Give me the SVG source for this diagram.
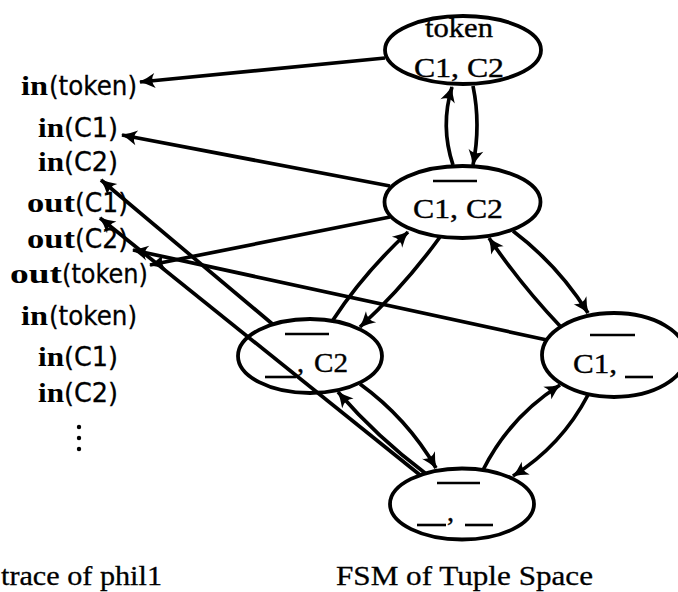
<svg xmlns="http://www.w3.org/2000/svg" width="678" height="592" viewBox="0 0 678 592">
<style>
.bg{fill:#fff}
.node ellipse{fill:none;stroke:#000;stroke-width:3.8}
.bar{stroke:#000;stroke-width:2.6}
.lbl{font-family:"Liberation Serif","Times New Roman",serif;font-size:28px;fill:#000;stroke:#000;stroke-width:0.4}
.kw{font-family:"Liberation Serif","Times New Roman",serif;font-weight:bold;font-size:28px;fill:#000}
.arg{font-family:"DejaVu Sans",sans-serif;font-size:27px;fill:#000;stroke:#000;stroke-width:0.3}
.cap{font-family:"Liberation Serif","Times New Roman",serif;font-size:28px;fill:#000;stroke:#000;stroke-width:0.3}
#connectors path{fill:none;stroke:#000;stroke-width:3.7;marker-end:url(#ah)}
</style>
<defs>
<marker id="ah" markerUnits="userSpaceOnUse" viewBox="-17 -9 19 18" refX="0" refY="0" markerWidth="19" markerHeight="18" orient="auto">
<path d="M1,0 Q-7,-2.5 -15,-7.5 Q-9.5,0 -15,7.5 Q-7,2.5 1,0 Z" fill="#000"/>
</marker>
</defs>
<rect class="bg" x="0" y="0" width="678" height="592"/>

<g id="trace">
<g id="t1"><text y="95"><tspan class="kw" x="21" textLength="27" lengthAdjust="spacingAndGlyphs">in</tspan><tspan class="arg" x="49" textLength="88" lengthAdjust="spacingAndGlyphs">(token)</tspan></text></g>
<g id="t2"><text y="137"><tspan class="kw" x="38" textLength="26" lengthAdjust="spacingAndGlyphs">in</tspan><tspan class="arg" x="64" textLength="54" lengthAdjust="spacingAndGlyphs">(C1)</tspan></text></g>
<g id="t3"><text y="171"><tspan class="kw" x="38" textLength="26" lengthAdjust="spacingAndGlyphs">in</tspan><tspan class="arg" x="64" textLength="54" lengthAdjust="spacingAndGlyphs">(C2)</tspan></text></g>
<g id="t4"><text y="212"><tspan class="kw" x="27" textLength="48" lengthAdjust="spacingAndGlyphs">out</tspan><tspan class="arg" x="75" textLength="53" lengthAdjust="spacingAndGlyphs">(C1)</tspan></text></g>
<g id="t5"><text y="248"><tspan class="kw" x="27" textLength="48" lengthAdjust="spacingAndGlyphs">out</tspan><tspan class="arg" x="75" textLength="53" lengthAdjust="spacingAndGlyphs">(C2)</tspan></text></g>
<g id="t6"><text y="283"><tspan class="kw" x="10" textLength="52" lengthAdjust="spacingAndGlyphs">out</tspan><tspan class="arg" x="62" textLength="86" lengthAdjust="spacingAndGlyphs">(token)</tspan></text></g>
<g id="t7"><text y="325"><tspan class="kw" x="21" textLength="27" lengthAdjust="spacingAndGlyphs">in</tspan><tspan class="arg" x="49" textLength="88" lengthAdjust="spacingAndGlyphs">(token)</tspan></text></g>
<g id="t8"><text y="366"><tspan class="kw" x="38" textLength="26" lengthAdjust="spacingAndGlyphs">in</tspan><tspan class="arg" x="64" textLength="54" lengthAdjust="spacingAndGlyphs">(C1)</tspan></text></g>
<g id="t9"><text y="402"><tspan class="kw" x="38" textLength="26" lengthAdjust="spacingAndGlyphs">in</tspan><tspan class="arg" x="64" textLength="54" lengthAdjust="spacingAndGlyphs">(C2)</tspan></text></g>
<g id="dots"><circle cx="79" cy="427" r="2.2"/><circle cx="79" cy="438" r="2.2"/><circle cx="79" cy="449" r="2.2"/></g>
</g>

<g id="n-top" class="node">
<ellipse cx="463" cy="50" rx="78" ry="34"/>
<text class="lbl" x="425" y="37" textLength="68" lengthAdjust="spacingAndGlyphs">token</text>
<text class="lbl" x="414" y="77" textLength="90" lengthAdjust="spacingAndGlyphs">C1, C2</text>
</g>
<g id="n-mid" class="node">
<ellipse cx="462.5" cy="202" rx="78" ry="36"/>
<line class="bar" x1="433" y1="181" x2="477" y2="181"/>
<text class="lbl" x="413" y="218" textLength="90" lengthAdjust="spacingAndGlyphs">C1, C2</text>
</g>
<g id="n-left" class="node">
<ellipse cx="310" cy="356" rx="72" ry="37"/>
<line class="bar" x1="285" y1="334" x2="329" y2="334"/>
<line class="bar" x1="265" y1="377" x2="296" y2="377"/>
<text class="lbl" x="297" y="372">,</text>
<text class="lbl" x="314" y="372" textLength="34" lengthAdjust="spacingAndGlyphs">C2</text>
</g>
<g id="n-right" class="node">
<ellipse cx="614" cy="355" rx="72" ry="42"/>
<line class="bar" x1="590" y1="335" x2="635" y2="335"/>
<text class="lbl" x="573" y="373" textLength="44" lengthAdjust="spacingAndGlyphs">C1,</text>
<line class="bar" x1="625" y1="377" x2="653" y2="377"/>
</g>
<g id="n-bottom" class="node">
<ellipse cx="462" cy="504" rx="72" ry="35.5"/>
<line class="bar" x1="437" y1="483" x2="480" y2="483"/>
<line class="bar" x1="417" y1="525" x2="446" y2="525"/>
<text class="lbl" x="447" y="521">,</text>
<line class="bar" x1="465" y1="525" x2="493" y2="525"/>
</g>

<g id="connectors">
<path d="M385,58 L140,82"/>
<path d="M390,186 L122,135"/>
<path d="M390,217 L150,265"/>
<path d="M547,340 L133,250"/>
<path d="M273,324.5 L101,180"/>
<path d="M420,475 L100,218"/>
<path d="M453,165 Q440,126 452,87"/>
<path d="M473,86 Q481,125 473,165"/>
<path d="M333,320 Q363,274 408,232"/>
<path d="M440,237 Q404.5,286 360,327"/>
<path d="M513,231 Q558,265 588,313"/>
<path d="M560,326 Q521.4,285.5 489,238"/>
<path d="M483,470 Q509.6,416.8 560,385"/>
<path d="M588,395 Q561.5,445.7 513,476"/>
<path d="M360,384 Q406.9,418 436,468"/>
<path d="M425,473 Q377.5,437.4 338,392"/>
</g>

<g id="captions">
<text class="cap" x="1" y="585" textLength="161" lengthAdjust="spacingAndGlyphs">trace of phil1</text>
<text class="cap" x="336" y="585" textLength="257" lengthAdjust="spacingAndGlyphs">FSM of Tuple Space</text>
</g>
</svg>
